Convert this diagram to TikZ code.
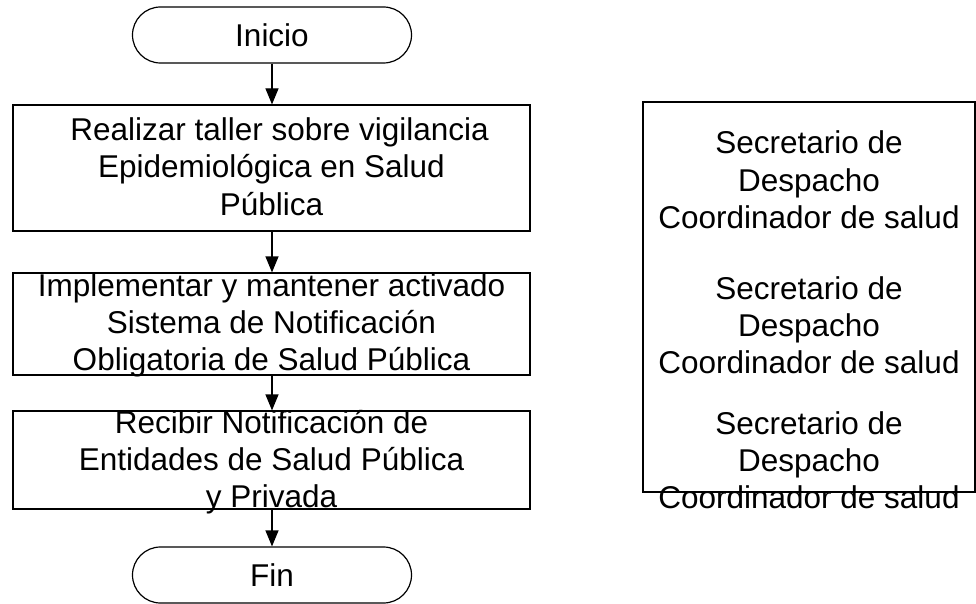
\documentclass[tikz,border=0pt]{standalone}
\usepackage{fontspec}
\setmainfont{Liberation Sans}
\usetikzlibrary{arrows.meta}
\begin{document}
\begin{tikzpicture}[x=1pt,y=-1pt,
  every node/.style={font=\fontsize{31.5}{37}\selectfont, inner sep=0pt},
  term/.style={draw, line width=1.2pt, rounded corners=28pt, minimum width=279pt, minimum height=56pt},
  procbox/.style={draw, line width=1.2pt, minimum width=517pt},
  sidebox/.style={draw, line width=1.2pt, minimum width=332pt, minimum height=390pt},
  txt/.style={align=center},
  flow/.style={line width=1.2pt, -{Triangle[length=16pt,width=13pt]}}]
\useasboundingbox (0,0) rectangle (976,604);
% left flow
\node[term] (inicio) at (272,35) {Inicio};
\node[procbox, minimum height=126pt] (b1) at (271.5,168) {};
\node[procbox, minimum height=102pt] (b2) at (271.5,324) {};
\node[procbox, minimum height=98pt] (b3) at (271.5,460) {};
\node[term] (fin) at (272,575) {Fin};
\node[txt] (t1) at (271.5,170.6) {\strut\hspace*{16pt}Realizar taller sobre vigilancia\\\strut Epidemiológica en Salud\\\strut Pública};
\node[txt] (t2) at (271.5,325.6) {\strut Implementar y mantener activado\\\strut Sistema de Notificación\\\strut Obligatoria de Salud Pública};
\node[txt] (t3) at (271.5,462.6) {\strut Recibir Notificación de\\\strut Entidades de Salud Pública\\\strut y Privada};
\draw[flow] (inicio.south) -- (inicio.south |- b1.north);
\draw[flow] (b1.south -| inicio.south) -- (inicio.south |- b2.north);
\draw[flow] (b2.south -| inicio.south) -- (inicio.south |- b3.north);
\draw[flow] (b3.south -| fin.north) -- (fin.north);
% right box
\node[sidebox] (side) at (809,297) {};
\node[txt] (r1) at (809,183.6) {\strut Secretario de\\\strut Despacho\\\strut Coordinador de salud};
\node[txt] (r2) at (809,328.6) {\strut Secretario de\\\strut Despacho\\\strut Coordinador de salud};
\node[txt] (r3) at (809,463.6) {\strut Secretario de\\\strut Despacho\\\strut Coordinador de salud};
\end{tikzpicture}
\end{document}
